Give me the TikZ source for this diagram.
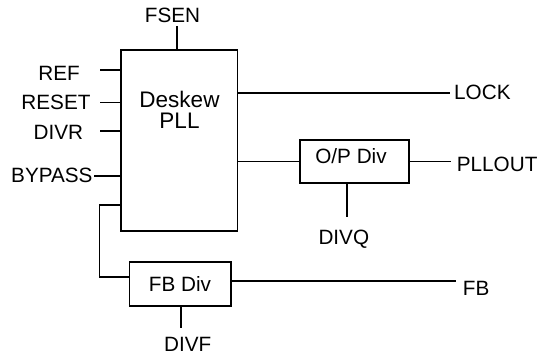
\documentclass[tikz,border=0pt]{standalone}
\usepackage{fontspec}
\setmainfont{Liberation Sans}
\begin{document}
\begin{tikzpicture}[x=1pt,y=-1pt,
  wire/.style={line width=1.6pt},
  box/.style={draw,line width=1.6pt,inner sep=0pt},
  lbl/.style={inner sep=0pt,font=\fontsize{20.7pt}{24pt}\selectfont},
  big/.style={inner sep=0pt,align=center,font=\fontsize{22.5pt}{21pt}\selectfont},
]
\useasboundingbox (0,0) rectangle (537,355);
% boxes
\node[box,minimum width=116.3pt,minimum height=180.7pt] (pll) at (179.15,140.35) {};
\node[big] (plltxt) at (179.5,109.7) {Deskew\\PLL};
\node[box,minimum width=109pt,minimum height=43.3pt] (opdiv) at (354.5,161.65) {};
\node[lbl,anchor=base] (optxt) at (351,164) {O/P Div};
\node[box,lbl,minimum width=101.4pt,minimum height=44pt] (fbdiv) at (180,283.7) {FB Div};
% labels
\node[lbl,anchor=base] (fsenl) at (172.5,22.7) {FSEN};
\node[lbl,anchor=base east] (refl) at (80,80.7) {REF};
\node[lbl,anchor=base east] (resetl) at (90.7,110) {RESET};
\node[lbl,anchor=base east] (divrl) at (83.3,140) {DIVR};
\node[lbl,anchor=base east] (bypassl) at (92.7,182.7) {BYPASS};
\node[lbl,anchor=base west] (lockl) at (454,99.3) {LOCK};
\node[lbl,anchor=base west] (plloutl) at (456.7,171.7) {PLLOUT};
\node[lbl,anchor=base] (divql) at (343.8,244) {DIVQ};
\node[lbl,anchor=base west] (fbl) at (462.7,295.7) {FB};
\node[lbl,anchor=base] (divfl) at (187.8,351.5) {DIVF};
% free wire ends
\coordinate (fsenE) at (176.7,26);
\coordinate (refE) at (100,70);
\coordinate (resetE) at (100,102.7);
\coordinate (divrE) at (100,131);
\coordinate (bypassE) at (94,176);
\coordinate (lockE) at (450,93.3);
\coordinate (plloutE) at (450.7,160);
\coordinate (divqE) at (346.7,216.7);
\coordinate (fbtap) at (99.3,205);
\coordinate (fbcorner) at (99.3,276.7);
\coordinate (fbE) at (456,280.7);
\coordinate (divfE) at (181,328.3);
% connectors
\draw[wire] (fsenE) -- (fsenE |- pll.north);
\draw[wire] (refE) -- (refE -| pll.west);
\draw[wire] (resetE) -- (resetE -| pll.west);
\draw[wire] (divrE) -- (divrE -| pll.west);
\draw[wire] (bypassE) -- (bypassE -| pll.west);
\draw[wire] (lockE -| pll.east) -- (lockE);
\draw[wire] (opdiv.west -| pll.east) -- (opdiv.west);
\draw[wire] (opdiv.east) -- (plloutE |- opdiv.east);
\draw[wire] (divqE |- opdiv.south) -- (divqE);
\draw[wire] (fbtap -| pll.west) -- (fbtap) -- (fbcorner) -- (fbcorner -| fbdiv.west);
\draw[wire] (fbE -| fbdiv.east) -- (fbE);
\draw[wire] (divfE |- fbdiv.south) -- (divfE);
\end{tikzpicture}
\end{document}
